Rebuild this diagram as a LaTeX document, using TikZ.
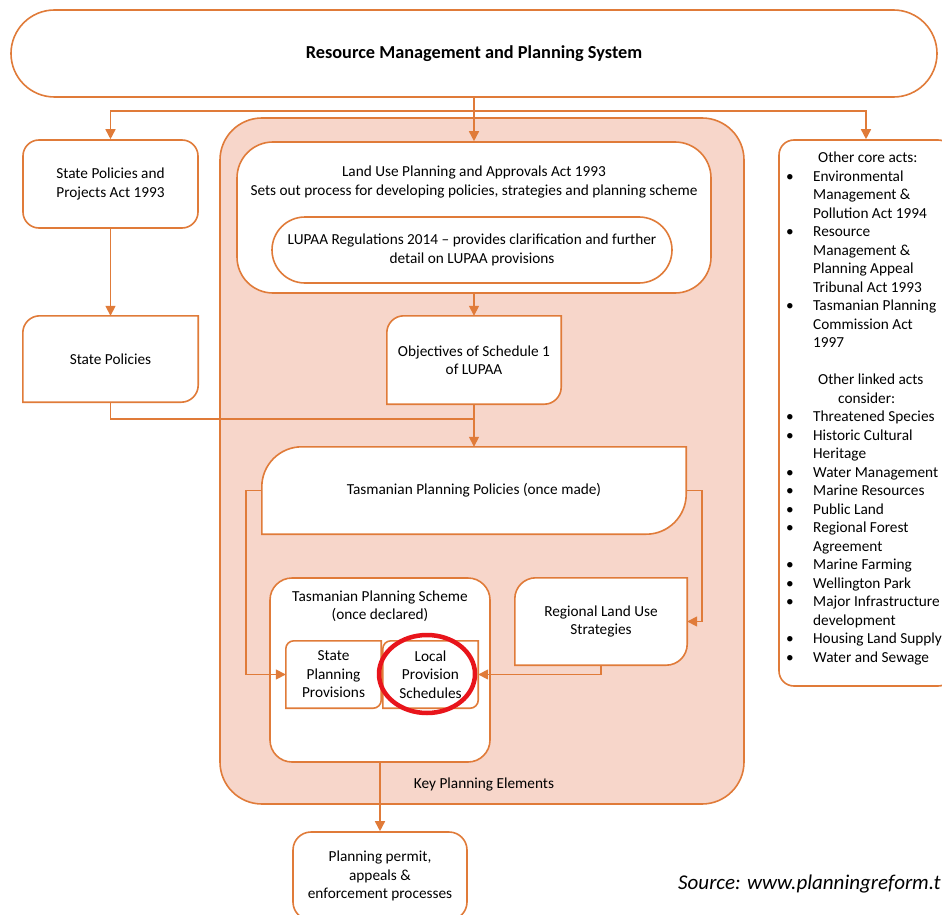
\documentclass[tikz,border=0pt]{standalone}
\usepackage{fontspec}
\setmainfont{Carlito}
\usetikzlibrary{arrows.meta, positioning, shapes.misc, shapes.geometric, calc}

\definecolor{rmorange}{HTML}{E07B39}
\definecolor{rmpink}{HTML}{F7D6CA}
\definecolor{rmred}{HTML}{E8141B}

\pgfdeclarelayer{back}
\pgfdeclarelayer{mid}
\pgfsetlayers{back,mid,main}

\newcommand\boxfont{\fontsize{15.3}{18.5}\selectfont}
\newcommand\actbul{\makebox[27pt][l]{\textbullet}}
\newcommand\actind{\hspace*{27pt}}

% outline with rounded top-left and bottom-right corners, drawn round a node
\newcommand\leafshape[2]{%
  \path[leaf] let \p1=(#1.north west), \p2=(#1.south east) in
    (\x1,\y2) -- (\x1,\y1-#2pt) arc[start angle=180, end angle=90, radius=#2pt]
    -- (\x2,\y1) -- (\x2,\y2+#2pt) arc[start angle=0, end angle=-90, radius=#2pt]
    -- cycle;}

\begin{document}
\begin{tikzpicture}[x=1pt, y=-1pt,
    box/.style     ={draw=rmorange, line width=1.6pt, fill=white, align=center,
                     inner sep=0pt, font=\boxfont},
    leaftext/.style={align=center, inner sep=0pt, font=\boxfont},
    leaf/.style    ={draw=rmorange, line width=1.6pt, fill=white},
    lbl/.style     ={align=center, inner sep=0pt, font=\boxfont},
    arr/.style     ={draw=rmorange, line width=1.6pt, -{Triangle[length=10pt, width=10pt]}},
    wire/.style    ={draw=rmorange, line width=1.6pt}
]
\useasboundingbox (0,0) rectangle (942,915);

%% -- Top of the system -------------------------------------------
\node[box, rounded rectangle, minimum width=926pt, minimum height=87pt,
      font=\fontsize{18.3}{22}\selectfont\bfseries] (rmps) at (474,53.5)
    {Resource Management and Planning System};

%% -- Left column --------------------------------------------------
\node[box, rounded corners=16pt, minimum width=175pt, minimum height=88pt] (spact) at (110.5,184)
    {State Policies and\\Projects Act 1993};
\node[leaftext, minimum width=175pt, minimum height=86pt] (statepol) at (110.5,359)
    {State Policies};

%% -- Key planning elements (container) ----------------------------
\begin{pgfonlayer}{back}
    \node[box, fill=rmpink, rounded corners=42pt, minimum width=524pt,
          minimum height=686pt] (kpe) at (482,461) {};
    \node[box, rounded corners=22pt, minimum width=220pt,
          minimum height=184pt] (tps) at (380,670) {};
\end{pgfonlayer}

\node[box, rounded corners=36pt, minimum width=474pt, minimum height=151pt] (lupaa) at (474,217.5) {};
\node[lbl] (lupaatxt) at (474,182)
    {Land Use Planning and Approvals Act 1993\\
     Sets out process for developing policies, strategies and planning scheme};
\node[box, rounded rectangle, minimum width=400pt, minimum height=66pt] (lupaareg) at (472,250)
    {LUPAA Regulations 2014 – provides clarification and further\\detail on LUPAA provisions};

\node[leaftext, minimum width=174pt, minimum height=88pt] (objectives) at (474,360)
    {Objectives of Schedule 1\\of LUPAA};
\node[leaftext, minimum width=424pt, minimum height=87pt] (tpp) at (474,490.5)
    {Tasmanian Planning Policies (once made)};

\node[lbl] (tpstitle) at (380,606) {Tasmanian Planning Scheme\\(once declared)};
\node[leaftext, minimum width=95pt, minimum height=67pt] (spp) at (333.5,674.5)
    {State\\Planning\\Provisions};
\node[leaftext, minimum width=95pt, minimum height=67pt] (lps) at (430.5,674.5)
    {Local\\Provision\\Schedules};
\node[leaftext, minimum width=172pt, minimum height=87pt] (regional) at (601,621.5)
    {Regional Land Use\\Strategies};

\node[lbl] (kpelbl) at (484,784) {Key Planning Elements};

%% -- Below and right ----------------------------------------------
\node[box, rounded corners=18pt, minimum width=174pt, minimum height=88pt] (permit) at (380,876)
    {Planning permit,\\appeals \&\\enforcement processes};

\node[box, rounded corners=15pt, minimum width=174pt, minimum height=546pt] (otheracts) at (866,413) {};
\node[lbl, align=left, anchor=north west] (actlist) at (786,152)
    {\hspace*{32pt}Other core acts:\\
     \actbul Environmental\\
     \actind Management \&\\
     \actind Pollution Act 1994\\
     \actbul Resource\\
     \actind Management \&\\
     \actind Planning Appeal\\
     \actind Tribunal Act 1993\\
     \actbul Tasmanian Planning\\
     \actind Commission Act\\
     \actind 1997\\[18.5pt]
     \hspace*{32pt}Other linked acts\\
     \hspace*{52pt}consider:\\
     \actbul Threatened Species\\
     \actbul Historic Cultural\\
     \actind Heritage\\
     \actbul Water Management\\
     \actbul Marine Resources\\
     \actbul Public Land\\
     \actbul Regional Forest\\
     \actind Agreement\\
     \actbul Marine Farming\\
     \actbul Wellington Park\\
     \actbul Major Infrastructure\\
     \actind development\\
     \actbul Housing Land Supply\\
     \actbul Water and Sewage};

\node[inner sep=0pt, anchor=west, font=\fontsize{21}{24}\selectfont\itshape] (source) at (678,884)
    {Source: www.planningreform.t};

%% -- Leaf outlines ------------------------------------------------
\begin{pgfonlayer}{mid}
    \leafshape{statepol}{17}
    \leafshape{objectives}{17}
    \leafshape{tpp}{40}
    \leafshape{regional}{21}
    \leafshape{spp}{8}
    \leafshape{lps}{8}
\end{pgfonlayer}

%% -- Connectors ---------------------------------------------------
\draw[arr] (rmps.south) -- (rmps.south |- lupaa.north);
\draw[arr] ([yshift=-13pt]rmps.south) -| (spact.north);
\draw[arr] ([yshift=-13pt]rmps.south) -| (otheracts.north);
\draw[arr] (spact) -- (statepol);
\draw[arr] (lupaa.south) -- (objectives.north);
\draw[wire] (statepol.south) |- ([yshift=-15pt]objectives.south);
\draw[arr] (objectives.south) -- (tpp.north);
\draw[arr] (tpp.west) -- ++(-16,0) |- (spp.west);
\draw[arr] (tpp.east) -- ++(16,0) |- (regional.east);
\draw[arr] (regional.south) |- (lps.east);
\draw[arr] (tps.south) -- (permit.north);

%% -- Highlight ----------------------------------------------------
\node[draw=rmred, line width=4.5pt, ellipse, minimum width=96pt, minimum height=78pt,
      inner sep=0pt] (lpsmark) at (427,674) {};

\end{tikzpicture}
\end{document}
